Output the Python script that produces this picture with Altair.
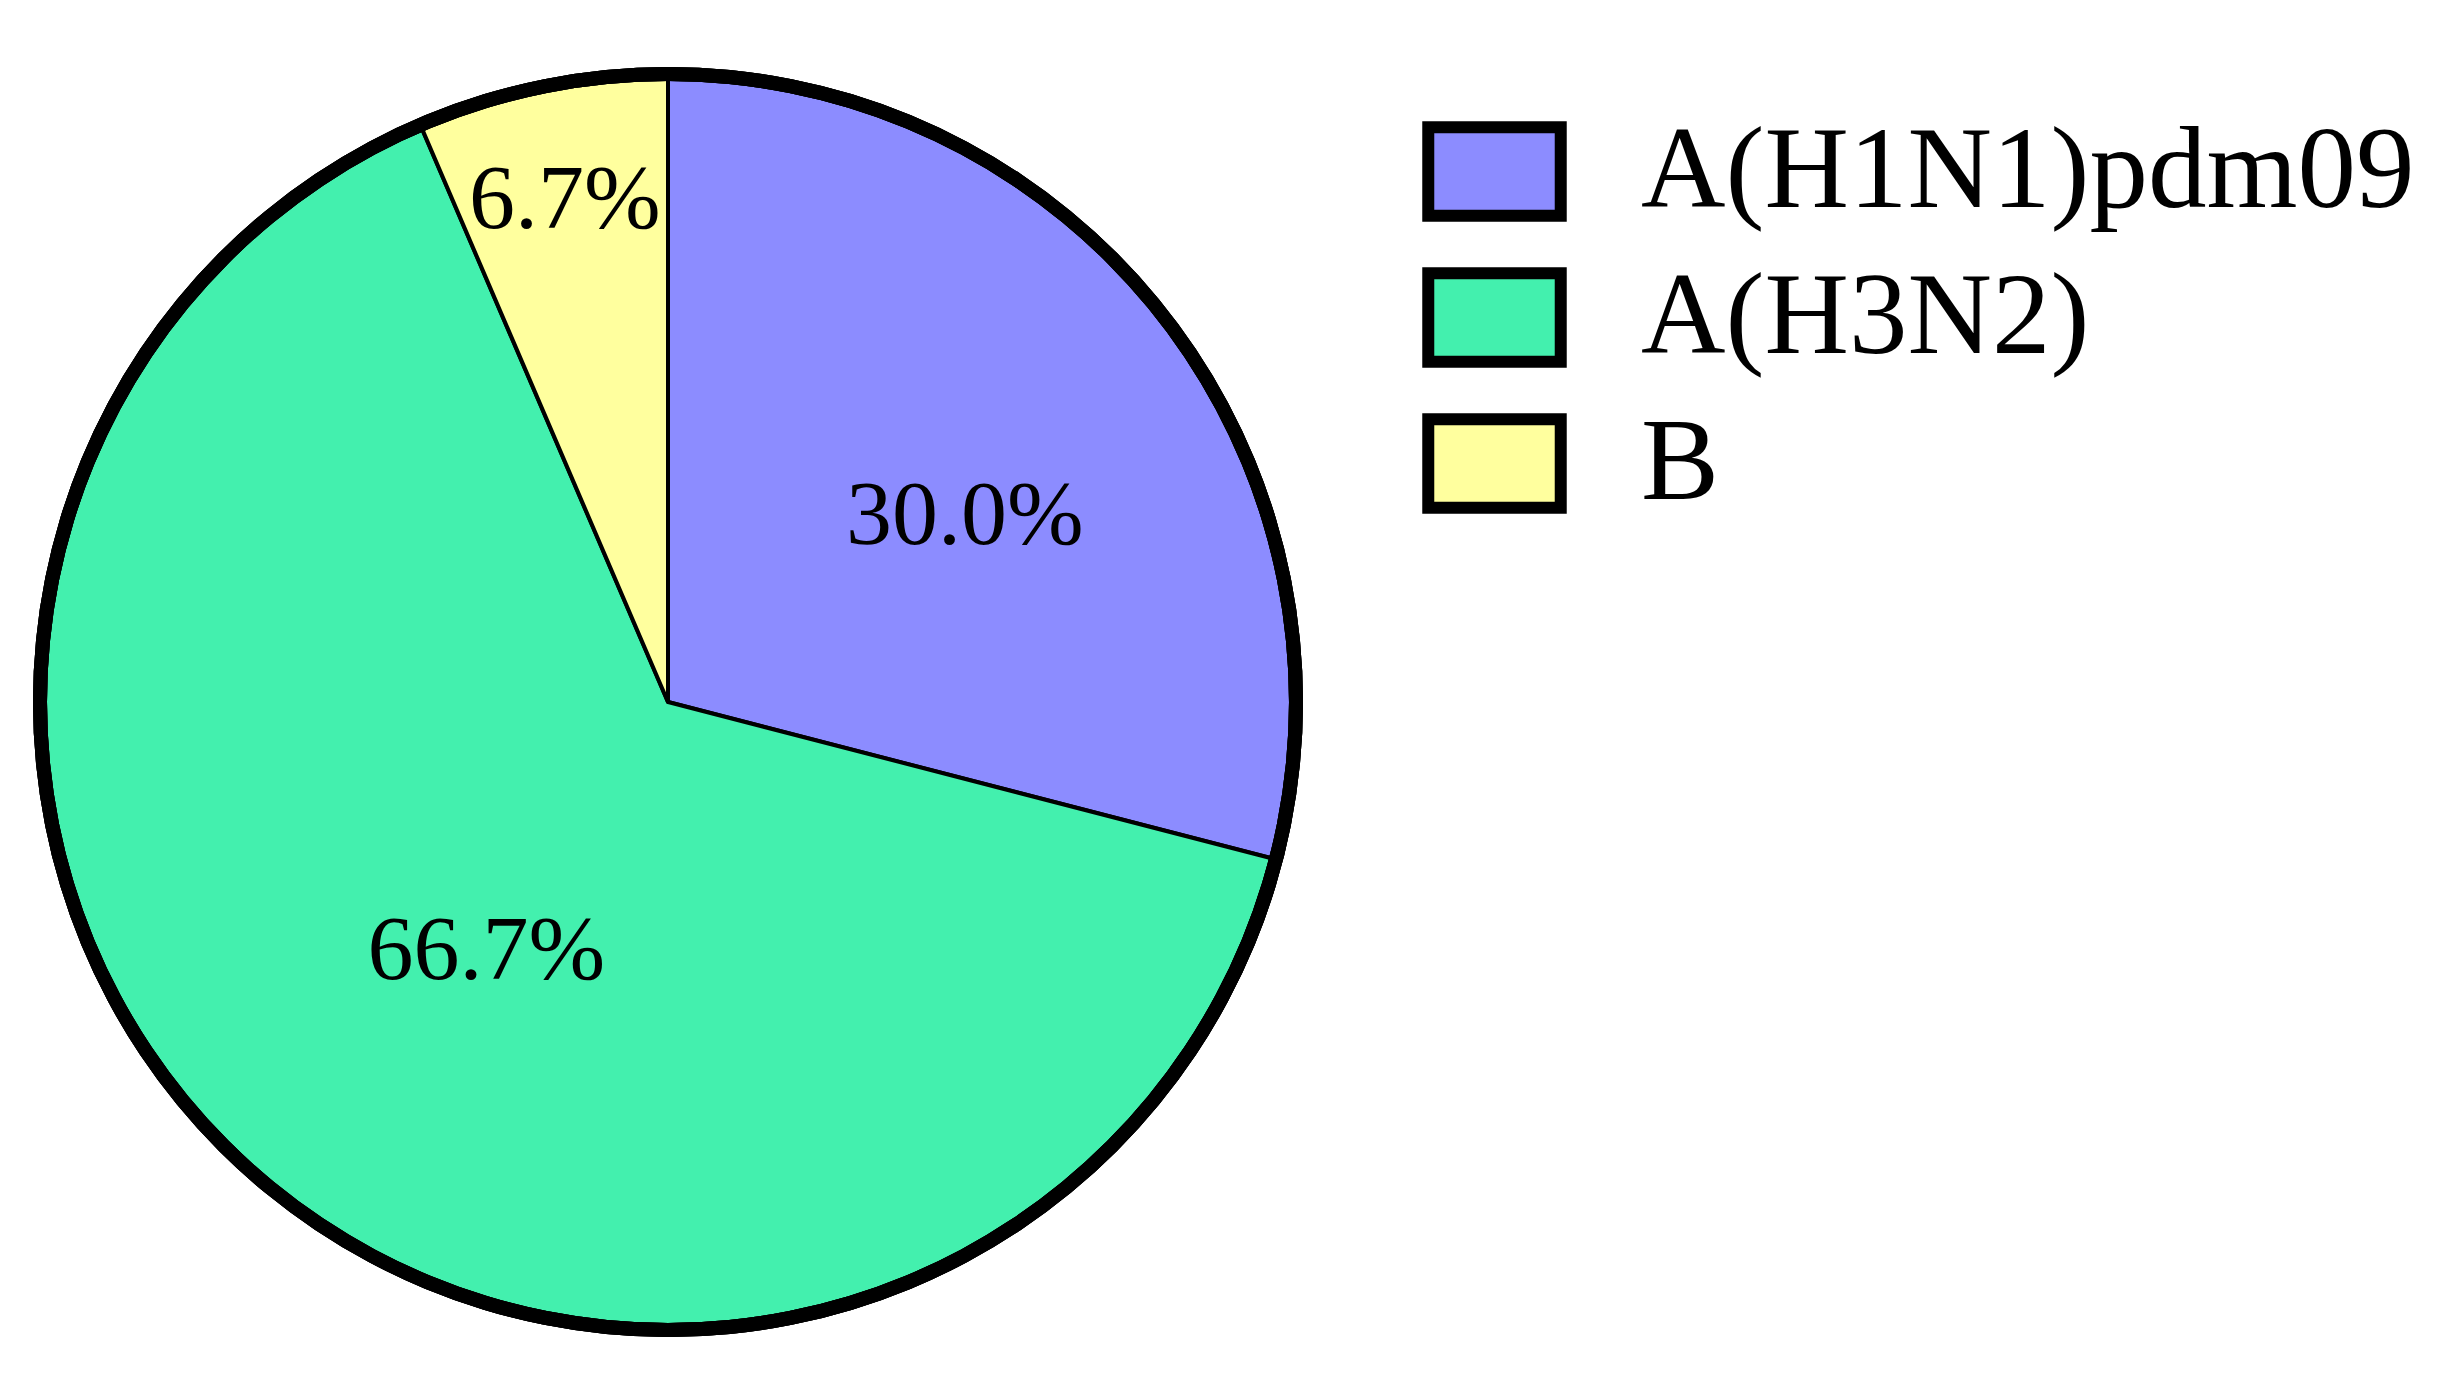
import altair as alt
import pandas as pd

categories = ["A(H1N1)pdm09", "A(H3N2)", "B"]
counts = [9, 20, 2]
labels = ["30.0%", "66.7%", "6.7%"]
colors = ["#8C8CFF", "#43F0AE", "#FFFF9E"]

df = pd.DataFrame({"category": categories, "count": counts, "label": labels,
                   "order": list(range(len(categories)))})

CX, CY, R = 660, 694, 628
FONT = "Liberation Serif"

color = alt.Color("category:N", scale=alt.Scale(domain=categories, range=colors),
                  legend=alt.Legend(title=None, orient="none", legendX=1428, legendY=105,
                                    symbolType="M-1.5,-1H1.5V1H-1.5Z", symbolSize=7800,
                                    symbolStrokeColor="black", symbolStrokeWidth=12,
                                    symbolOpacity=1, labelFont=FONT, labelFontSize=117,
                                    labelColor="black", labelLimit=0, labelOffset=88,
                                    rowPadding=9))

slices = alt.Chart(df).mark_arc(stroke="black", strokeWidth=4, radius=R).encode(
    theta=alt.Theta("count:Q", stack=True),
    order=alt.Order("order:Q"),
    color=color, x=alt.value(CX), y=alt.value(CY))

outline = alt.Chart(df).mark_arc(fill="black", radius=R + 7, radius2=R - 7).encode(
    theta=alt.value(0), theta2=alt.value(6.283185307), x=alt.value(CX), y=alt.value(CY))

# label placement (best-fit style): small angular nudge and radius per slice
text = alt.Chart(df).transform_window(
    cum="sum(count)", sort=[alt.SortField("order")], frame=[None, 0]
).transform_joinaggregate(total="sum(count)").transform_calculate(
    mid="2 * PI * (datum.cum - datum.count / 2) / datum.total"
        " + (datum.category == 'A(H1N1)pdm09' ? 0.10 : (datum.category == 'A(H3N2)' ? -0.078 : 0))",
    r="datum.category == 'B' ? 513 : (datum.category == 'A(H3N2)' ? 308 : 350)"
).mark_text(font=FONT, fontSize=92, color="black", align="center", baseline="middle").encode(
    text="label:N",
    theta=alt.Theta("mid:Q", scale=None),
    radius=alt.Radius("r:Q", scale=None),
    x=alt.value(CX), y=alt.value(CY))

chart = alt.layer(slices, outline, text).properties(
    width=2440, height=1365, autosize=alt.AutoSizeParams(type="none"), padding=0
).configure_view(stroke=None)

chart.save("out.html", embed_options={"renderer": "svg", "actions": False})
